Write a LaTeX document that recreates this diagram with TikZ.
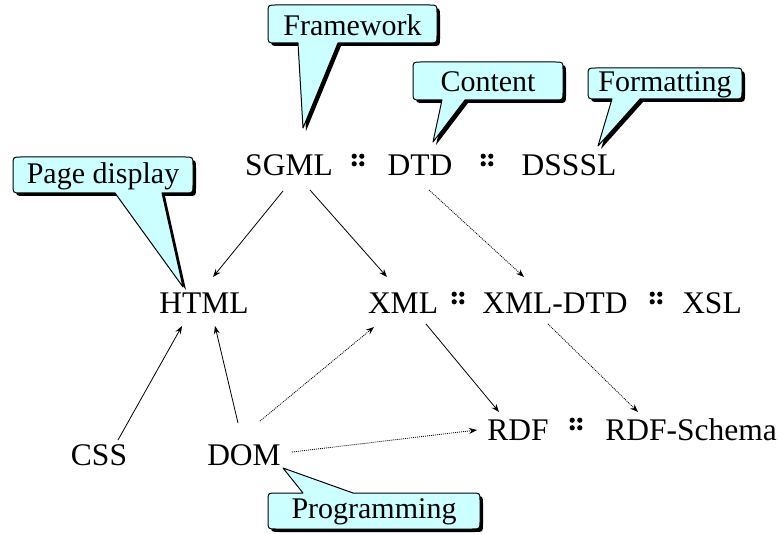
\documentclass[tikz,border=0pt]{standalone}
\usepackage{fontspec}
\setmainfont{Liberation Serif}
\usetikzlibrary{arrows.meta,calc}
\definecolor{bubble}{HTML}{CCFFFF}

% rounded callout box with a pointed tail
% #1..#4 box corners (x1,y1,x2,y2), #5/#6 tail base x-range,
% #7/#8 tail tip, #9 name, then the text; tail leaves the bottom edge
\newcommand{\bubbledown}[9]{%
  \def\bx{#1}\def\by{#2}\def\bX{#3}\def\bY{#4}%
  \def\ta{#5}\def\tb{#6}\def\tx{#7}\def\ty{#8}\def\bname{#9}%
  \bubblebody}
\newcommand{\bubblebody}[1]{%
  \foreach \st in {shadowed,plain}{%
    \path[\st] (\bx+8,\by) -- (\bX-8,\by)
      .. controls (\bX,\by) .. (\bX,\by+8)
      -- (\bX,\bY-8)
      .. controls (\bX,\bY) .. (\bX-8,\bY)
      -- (\tb,\bY) -- (\tx,\ty) -- (\ta,\bY)
      -- (\bx+8,\bY)
      .. controls (\bx,\bY) .. (\bx,\bY-8)
      -- (\bx,\by+8)
      .. controls (\bx,\by) .. cycle;}
  \node[note] (\bname) at ({(\bx+\bX)/2},{(\by+\bY)/2+1}) {#1};}
% same callout, tail leaving the top edge
\newcommand{\bubbleup}[9]{%
  \def\bx{#1}\def\by{#2}\def\bX{#3}\def\bY{#4}%
  \def\ta{#5}\def\tb{#6}\def\tx{#7}\def\ty{#8}\def\bname{#9}%
  \bubbleupbody}
\newcommand{\bubbleupbody}[1]{%
  \foreach \st in {shadowed,plain}{%
    \path[\st] (\bx+8,\by) -- (\ta,\by) -- (\tx,\ty) -- (\tb,\by)
      -- (\bX-8,\by)
      .. controls (\bX,\by) .. (\bX,\by+8)
      -- (\bX,\bY-8)
      .. controls (\bX,\bY) .. (\bX-8,\bY)
      -- (\bx+8,\bY)
      .. controls (\bx,\bY) .. (\bx,\bY-8)
      -- (\bx,\by+8)
      .. controls (\bx,\by) .. cycle;}
  \node[note] (\bname) at ({(\bx+\bX)/2},{(\by+\bY)/2+1}) {#1};}

% four-dot separator
\newcommand{\quaddot}[2]{%
  \foreach \dx in {-3.8,3.8}{\foreach \dy in {-3.8,3.8}{%
    \fill ({#1+\dx},{#2+\dy}) circle (2.6);}}}

\begin{document}
\begin{tikzpicture}[x=1pt,y=-1pt,
  term/.style={anchor=base,inner sep=0pt,font=\fontsize{31.5}{31.5}\selectfont},
  note/.style={anchor=center,inner sep=0pt,font=\fontsize{30}{30}\selectfont},
  shadowed/.style={fill=black,shift={(3,3)}},
  plain/.style={fill=bubble,draw=black,line width=1pt,line join=round},
  link/.style={line width=0.8pt,-{Stealth[length=8pt,width=6pt]}},
  weak/.style={link,dash pattern=on 1pt off 1pt}]
\useasboundingbox (0,0) rectangle (779,534);

% callouts
\bubbledown{268}{5}{437}{43}{298}{338}{303}{128}{framework}{Framework}
\bubbledown{413}{62}{563}{100}{442}{465}{433}{142}{content}{Content}
\bubbledown{588}{68}{742}{99}{612}{640}{598}{146}{formatting}{Formatting}
\bubbledown{13}{157}{193}{193}{115}{162}{183}{287}{pagedisplay}{Page display}
\bubbleup{268}{493}{480}{529}{303}{353}{283}{468}{programming}{Programming}

% terms, first row
\node[term] (sgml)  at (289,176) {SGML};
\node[term] (dtd)   at (420,176) {DTD};
\node[term] (dsssl) at (569,176) {DSSSL};
\quaddot{358}{160}
\quaddot{487}{160}

% second row
\node[term] (html)   at (204,314) {HTML};
\node[term] (xml)    at (403,314) {XML};
\node[term] (xmldtd) at (555,314) {XML-DTD};
\node[term] (xsl)    at (712,314) {XSL};
\quaddot{458}{298}
\quaddot{656}{298}

% third row
\node[term] (css)  at (99,465)  {CSS};
\node[term] (dom)  at (244,465) {DOM};
\node[term] (rdf)  at (518,440) {RDF};
\node[term] (rdfs) at (691,440) {RDF-Schema};
\quaddot{576}{424}

% connectors
\draw[link] ($(sgml.base)+(-6,15)$)   -- ($(html.base)+(9,-37)$);
\draw[link] ($(sgml.base)+(21,14)$)   -- ($(xml.base)+(-16,-37)$);
\draw[weak] ($(dtd.base)+(9,14)$)     -- ($(xmldtd.base)+(-31,-37)$);
\draw[link] ($(css.base)+(19,-25)$)   -- ($(html.base)+(-22,12)$);
\draw[link] ($(dom.base)+(-6,-42)$)   -- ($(html.base)+(11,12)$);
\draw[weak] ($(dom.base)+(16,-44)$)   -- ($(xml.base)+(-29,13)$);
\draw[link] ($(xml.base)+(23,10)$)    -- ($(rdf.base)+(-19,-28)$);
\draw[weak] ($(xmldtd.base)+(-7,10)$) -- ($(rdfs.base)+(-53,-28)$);
\draw[weak] ($(dom.base)+(48,-13)$)   -- ($(rdf.base)+(-41,-10)$);
\end{tikzpicture}
\end{document}
